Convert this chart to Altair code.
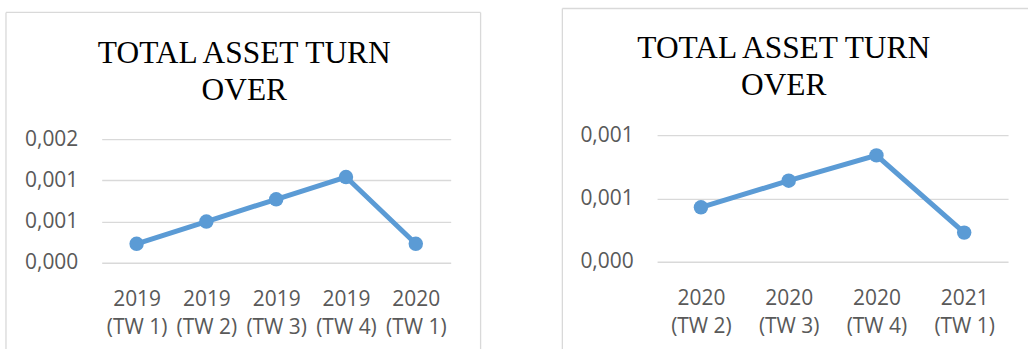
import altair as alt
import pandas as pd

TITLE_LINES = ["TOTAL ASSET TURN", "OVER"]

left_periods = ["2019 (TW 1)", "2019 (TW 2)", "2019 (TW 3)", "2019 (TW 4)", "2020 (TW 1)"]
left_values = [0.00023, 0.00050, 0.00077, 0.00104, 0.00023]
left_ticks = [0, 0.0005, 0.001, 0.0015]

right_periods = ["2020 (TW 2)", "2020 (TW 3)", "2020 (TW 4)", "2021 (TW 1)"]
right_values = [0.00043, 0.00064, 0.00084, 0.00023]
right_ticks = [0, 0.0005, 0.001]

LINE_COLOR = "#5B9BD5"
GRID = "#D9D9D9"
LABEL = "#595959"
SANS = "Open Sans"
SERIF = "Liberation Serif"


def panel(periods, values, ticks, ymax, w, h, title_x, title_y, frame_layers):
    df = pd.DataFrame({"period": periods, "value": values})
    x = alt.X(
        "period:N",
        sort=periods,
        axis=alt.Axis(
            title=None,
            labelAngle=0,
            labelExpr="[slice(datum.label, 0, 4), slice(datum.label, 5)]",
            labelFont=SANS,
            labelFontSize=21,
            labelColor=LABEL,
            labelLineHeight=28,
            labelBaseline="alphabetic",
            labelPadding=43,
            labelOverlap=False,
            labelBound=False,
            ticks=False,
            tickSize=0,
            domain=False,
            grid=False,
        ),
    )
    y = alt.Y(
        "value:Q",
        scale=alt.Scale(domain=[0, ymax], nice=False, zero=True),
        axis=alt.Axis(
            title=None,
            values=ticks,
            labelExpr="replace(format(datum.value, '.3f'), '.', ',')",
            labelFont=SANS,
            labelFontSize=21,
            labelColor=LABEL,
            labelPadding=24,
            labelBaseline="middle",
            ticks=False,
            tickSize=0,
            domain=False,
            grid=True,
            gridColor=GRID,
            gridWidth=1.3,
        ),
    )
    base = alt.Chart(df).encode(x=x, y=y)
    line = base.mark_line(color=LINE_COLOR, strokeWidth=5)
    pts = base.mark_circle(color=LINE_COLOR, size=210, opacity=1)
    one = pd.DataFrame({"title": ["\n".join(TITLE_LINES)]})
    title = alt.Chart(one).mark_text(
        lineBreak="\n",
        lineHeight=36.5,
        baseline="alphabetic",
        align="center",
        font=SERIF,
        fontSize=31.5,
        color="#000000",
    ).encode(text="title:N", x=alt.value(title_x), y=alt.value(title_y))
    layers = frame_layers(one) + [title, line, pts]
    return alt.layer(*layers).properties(width=w, height=h)


def left_frame(one):
    top = alt.Chart(one).mark_rule(color=GRID, strokeWidth=1.3).encode(
        x=alt.value(-96), x2=alt.value(380), y=alt.value(-123)
    )
    left = alt.Chart(one).mark_rule(color=GRID, strokeWidth=1.3).encode(
        x=alt.value(-96), y=alt.value(-123), y2=alt.value(215)
    )
    right = alt.Chart(one).mark_rule(color=GRID, strokeWidth=1.3).encode(
        x=alt.value(380), y=alt.value(-123), y2=alt.value(215)
    )
    return [top, left, right]


def right_frame(one):
    top = alt.Chart(one).mark_rule(color=GRID, strokeWidth=1.3).encode(
        x=alt.value(-95), x2=alt.value(372), y=alt.value(-127)
    )
    left = alt.Chart(one).mark_rule(color=GRID, strokeWidth=1.3).encode(
        x=alt.value(-95), y=alt.value(-127), y2=alt.value(215)
    )
    return [top, left]


left_chart = panel(left_periods, left_values, left_ticks, 0.0015 * 128 / 124, 350, 128, 143, -72, left_frame)
right_chart = panel(right_periods, right_values, right_ticks, 0.001, 352, 127, 127, -77, right_frame)

chart = alt.hconcat(left_chart, right_chart, spacing=80).properties(
    padding={"left": 5, "top": 7, "right": 0, "bottom": 0}
).configure_view(strokeWidth=0)

chart.save("out.html", embed_options={"renderer": "svg", "actions": False})
